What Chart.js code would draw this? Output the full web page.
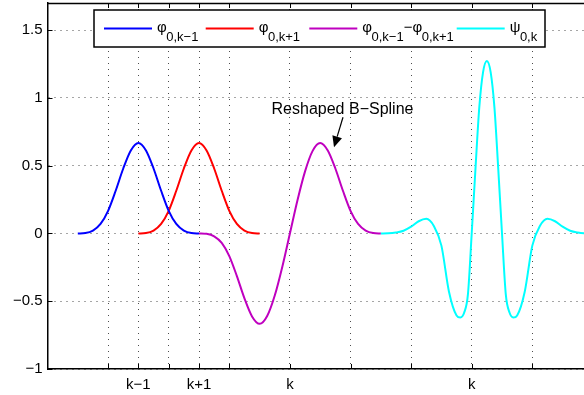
<!DOCTYPE html>
<html><head><meta charset="utf-8">
<script src="https://cdn.jsdelivr.net/npm/chart.js@4"></script>
<style>html,body{margin:0;padding:0;background:#fff;overflow:hidden}#wrap{width:584px;height:395px;position:relative}</style>
</head><body><div id="wrap"><canvas id="c" width="584" height="395"></canvas></div>
<script>
const FONT = '"Liberation Sans", Arial, Helvetica, sans-serif';

// ---- data ----
const phiKm1X = [0.5,0.625,0.75,0.875,1.0,1.125,1.25,1.375,1.5,1.625,1.75,1.875,2.0,2.125,2.25,2.375,2.5];
const phiKm1Y = [0,0.003,0.021,0.070,0.167,0.315,0.479,0.612,0.667,0.612,0.479,0.315,0.167,0.070,0.021,0.003,0];
const phiKp1X = [1.5,1.625,1.75,1.875,2.0,2.125,2.25,2.375,2.5,2.625,2.75,2.875,3.0,3.125,3.25,3.375,3.5];
const phiKp1Y = [0,0.003,0.021,0.070,0.167,0.315,0.479,0.612,0.667,0.612,0.479,0.315,0.167,0.070,0.021,0.003,0];
const diffX = [2.5,2.625,2.75,2.875,3.0,3.125,3.25,3.375,3.5,3.625,3.75,3.875,4.0,4.125,4.25,4.375,4.5,4.625,4.75,4.875,5.0,5.125,5.25,5.375,5.5];
const diffY = [0,-0.003,-0.021,-0.070,-0.167,-0.315,-0.479,-0.612,-0.667,-0.609,-0.458,-0.245,0,0.245,0.458,0.609,0.667,0.612,0.479,0.315,0.167,0.070,0.021,0.003,0];
const psiX = [5.5,5.625,5.75,5.875,6.0,6.125,6.25,6.375,6.5,6.625,6.75,6.8125,6.875,6.9375,7.0,7.0625,7.125,7.1875,7.25,7.3125,7.375,7.4375,7.5,7.5625,7.625,7.6875,7.75,7.875,8.0,8.125,8.25,8.375,8.5,8.625,8.75,8.875,9.0];
const psiY = [0,0.001,0.007,0.02,0.05,0.09,0.108,0.055,-0.09,-0.43,-0.605,-0.62,-0.585,-0.45,0,0.48,0.93,1.19,1.272,1.19,0.93,0.48,0,-0.45,-0.585,-0.62,-0.605,-0.43,-0.09,0.055,0.108,0.09,0.05,0.02,0.007,0.001,0];

const xTickValues = [1,1.5,2,2.5,3,4,5,6,7,8];
const xTickLabels = ['','k−1','','k+1','','k','','','k',''];
const yTickValues = [-1,-0.5,0,0.5,1,1.5];
const yTickLabels = ['−1','−0.5','0','0.5','1','1.5'];
const X_MIN = 0, X_MAX = 8.853, Y_MIN = -1, Y_MAX = 1.7;

const annotationText = 'Reshaped B−Spline';
const annotationAt = {x: 4.868, y: 0.916};
const arrowFrom = {x: 4.876, y: 0.857};
const arrowTo = {x: 4.728, y: 0.636};

// legend entries: [main symbol, subscript, ...]
const legendEntries = [
  {color:'#0000ff', parts:[['φ','0,k−1']]},
  {color:'#ff0000', parts:[['φ','0,k+1']]},
  {color:'#bf00bf', parts:[['φ','0,k−1'],['−φ','0,k+1']]},
  {color:'#00ffff', parts:[['ψ','0,k']]}
];
const legendLineStarts = [104, 205.7, 309.3, 456.7];

const pts = (xs, ys) => xs.map((x, i) => ({x, y: ys[i]}));
const ds = (xs, ys, color) => ({data: pts(xs, ys), borderColor: color, borderWidth: 2, pointRadius: 0, fill: false, cubicInterpolationMode: 'monotone'});

const decor = {
  id: 'decor',
  afterDatasetsDraw(chart) {
    const {ctx, chartArea: a, scales: {x, y}} = chart;
    const line = (x1, y1, x2, y2) => { ctx.beginPath(); ctx.moveTo(x1, y1); ctx.lineTo(x2, y2); ctx.stroke(); };
    ctx.save();
    ctx.strokeStyle = '#000'; ctx.lineWidth = 1;
    xTickValues.forEach(v => {
      const px = Math.round(x.getPixelForValue(v)) + 0.5;
      line(px, a.bottom, px, a.bottom - 5);
      line(px, a.top, px, a.top + 5);
    });
    yTickValues.forEach(v => {
      const py = Math.round(y.getPixelForValue(v)) + 0.5;
      line(a.left, py, a.left + 5, py);
    });
    ctx.lineWidth = 1.5;
    line(a.left, a.top + 0.5, a.right, a.top + 0.5);
    // annotation
    ctx.fillStyle = '#000';
    ctx.font = '16px ' + FONT;
    ctx.textAlign = 'center'; ctx.textBaseline = 'middle';
    ctx.fillText(annotationText, x.getPixelForValue(annotationAt.x), y.getPixelForValue(annotationAt.y));
    const x1 = x.getPixelForValue(arrowFrom.x), y1 = y.getPixelForValue(arrowFrom.y);
    const x2 = x.getPixelForValue(arrowTo.x), y2 = y.getPixelForValue(arrowTo.y);
    const ang = Math.atan2(y2 - y1, x2 - x1);
    const hl = 11, hw = 5;
    const bx = x2 - hl * Math.cos(ang), by = y2 - hl * Math.sin(ang);
    ctx.lineWidth = 1.2;
    line(x1, y1, bx, by);
    ctx.beginPath();
    ctx.moveTo(x2, y2);
    ctx.lineTo(bx + hw * Math.sin(ang), by - hw * Math.cos(ang));
    ctx.lineTo(bx - hw * Math.sin(ang), by + hw * Math.cos(ang));
    ctx.closePath(); ctx.fill();
    ctx.restore();
  },
  afterDraw(chart) {
    const {ctx} = chart;
    ctx.save();
    ctx.fillStyle = '#fff';
    ctx.fillRect(94, 10, 451, 37);
    ctx.strokeStyle = '#000'; ctx.lineWidth = 1.5;
    ctx.strokeRect(94, 10, 451, 37);
    legendEntries.forEach((e, i) => {
      const lx = legendLineStarts[i];
      ctx.strokeStyle = e.color; ctx.lineWidth = 2;
      ctx.beginPath(); ctx.moveTo(lx, 28.5); ctx.lineTo(lx + 48, 28.5); ctx.stroke();
      let tx = lx + 53;
      ctx.fillStyle = '#000'; ctx.textAlign = 'left'; ctx.textBaseline = 'alphabetic';
      e.parts.forEach(([main, sub]) => {
        ctx.font = '15px ' + FONT;
        ctx.fillText(main, tx, 32);
        tx += ctx.measureText(main).width - 0.5;
        ctx.font = '13px ' + FONT;
        ctx.fillText(sub, tx, 40.5);
        tx += ctx.measureText(sub).width;
      });
    });
    ctx.restore();
  }
};

new Chart(document.getElementById('c'), {
  type: 'line',
  data: {datasets: [
    ds(phiKm1X, phiKm1Y, '#0000ff'),
    ds(phiKp1X, phiKp1Y, '#ff0000'),
    ds(diffX, diffY, '#bf00bf'),
    ds(psiX, psiY, '#00ffff')
  ]},
  options: {
    responsive: false, animation: false, devicePixelRatio: 1,
    layout: {padding: {top: 3, left: 0, right: 0, bottom: 0}},
    plugins: {legend: {display: false}, tooltip: {enabled: false}},
    scales: {
      x: {
        type: 'linear', min: X_MIN, max: X_MAX,
        afterBuildTicks: s => { s.ticks = xTickValues.map(v => ({value: v})); },
        afterFit: s => { s.height = 26; s.paddingLeft = 0; s.paddingRight = 0; },
        ticks: {autoSkip: false, maxRotation: 0, padding: 7, color: '#000', font: {family: FONT, size: 15},
          callback: v => { const i = xTickValues.indexOf(v); return i >= 0 ? xTickLabels[i] : ''; }},
        grid: {drawTicks: false, color: 'rgba(0,0,0,0.7)', lineWidth: 1},
        border: {display: true, color: '#000', width: 1.5, dash: [1, 5]}
      },
      y: {
        type: 'linear', min: Y_MIN, max: Y_MAX,
        afterBuildTicks: s => { s.ticks = yTickValues.map(v => ({value: v})); },
        afterFit: s => { s.width = 47.5; s.paddingTop = 0; s.paddingBottom = 0; },
        ticks: {autoSkip: false, padding: 5, color: '#000', font: {family: FONT, size: 15},
          callback: v => { const i = yTickValues.indexOf(v); return i >= 0 ? yTickLabels[i] : ''; }},
        grid: {drawTicks: false, color: 'rgba(0,0,0,0.7)', lineWidth: 1},
        border: {display: true, color: '#000', width: 1.5, dash: [1, 5]}
      }
    }
  },
  plugins: [decor]
});
</script></body></html>
